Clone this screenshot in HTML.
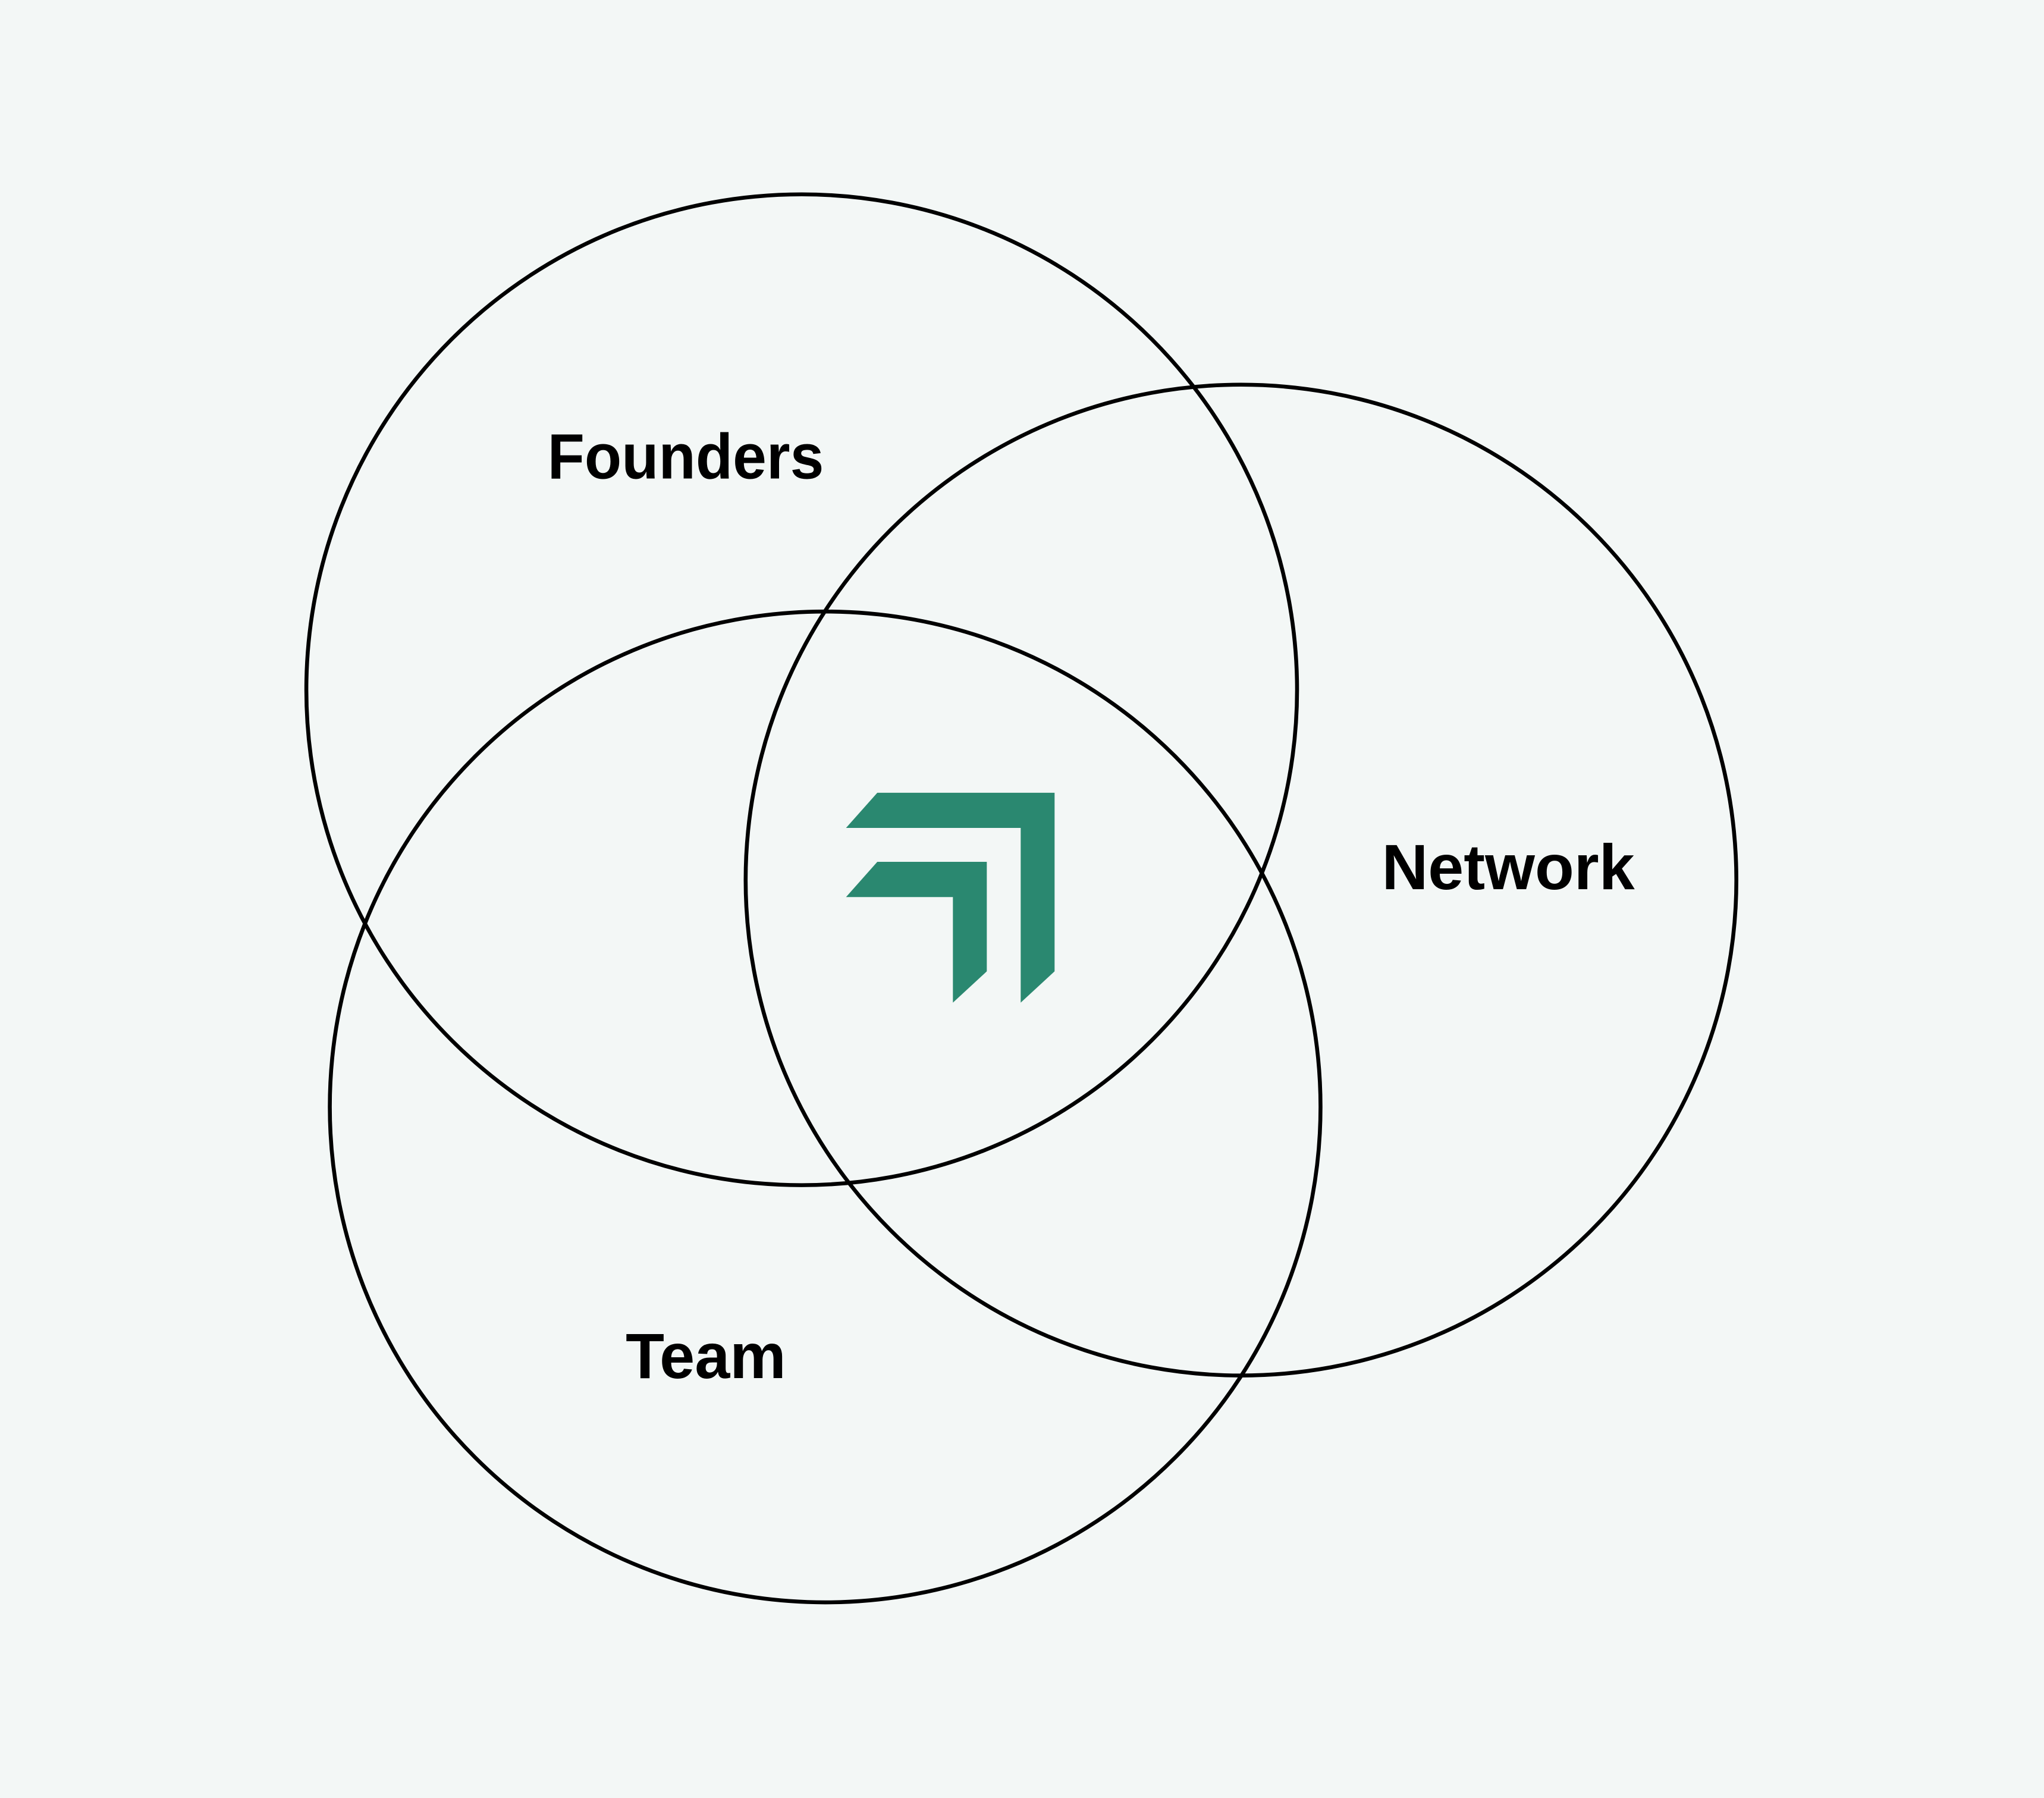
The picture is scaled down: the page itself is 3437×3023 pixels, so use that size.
<!DOCTYPE html>
<html><head><style>
html,body{margin:0;padding:0;background:#f3f7f6;}
svg{display:block;}
</style></head><body>
<svg width="3437" height="3023" viewBox="0 0 1568 1379" xmlns="http://www.w3.org/2000/svg">
<rect width="1568" height="1379" fill="#f3f7f6"/>
<g fill="none" stroke="#000" stroke-width="3">
<circle cx="615" cy="529" r="380"/>
<circle cx="952" cy="675" r="380"/>
<circle cx="633" cy="849" r="380"/>
</g>
<g fill="#2a8870">
<polygon points="673,608 809,608 809,745 783,769 783,635 649,635"/>
<polygon points="673,661 757,661 757,745 731,769 731,688 649,688"/>
</g>
<g font-family="Liberation Sans, sans-serif" font-weight="bold" font-size="49" fill="#000">
<text x="420" y="367" textLength="212" lengthAdjust="spacingAndGlyphs">Founders</text>
<text x="1060" y="682" textLength="194" lengthAdjust="spacingAndGlyphs">Network</text>
<text x="480" y="1057" textLength="123" lengthAdjust="spacingAndGlyphs">Team</text>
</g>
</svg>
</body></html>
